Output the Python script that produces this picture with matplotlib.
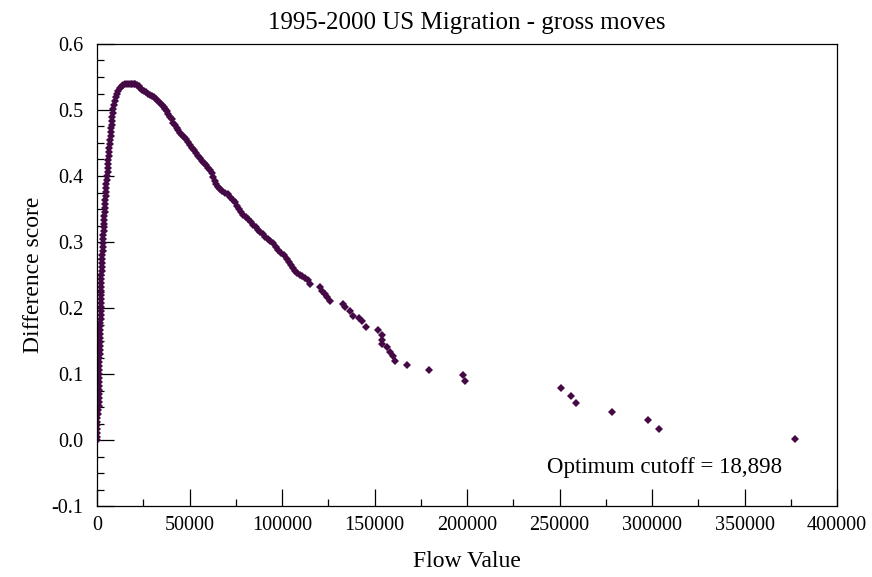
import matplotlib
matplotlib.use("Agg")
import matplotlib.pyplot as plt
from matplotlib.ticker import MultipleLocator, FormatStrFormatter

plt.rcParams['font.family'] = ['Liberation Serif', 'DejaVu Serif']

title = "1995-2000 US Migration - gross moves"
x_label = "Flow Value"
y_label = "Difference score"
note = "Optimum cutoff = 18,898"

# rising part (very small flow values)
flow_rise = [50, 80, 120, 150, 180, 220, 260, 300,
             700, 900, 1000, 1050, 1100, 1150, 1200, 1200, 1250, 1250, 1300, 1300, 1350, 1350, 1400, 1400,
             1500, 1600, 1650, 1700, 1750, 1800, 1850, 1900, 1950, 2000, 2000, 2050, 2100, 2150, 2200,
             2250, 2300, 2350, 2400, 2500, 2600,
             2750, 2850, 2950, 3050, 3150, 3250, 3350, 3450, 3550, 3650, 3750,
             3900, 4000, 4150, 4250, 4400, 4500, 4650, 4800, 4950, 5100,
             5300, 5500, 5700, 5850, 6000, 6150, 6350, 6550, 6750, 6950, 7150, 7350, 7550, 7750, 7950,
             8150, 8350, 8600, 8900, 9300, 9800, 10300, 10900, 11600, 12400, 13300, 14300, 15300,
             16300, 17300, 18300, 18898, 19800, 20800, 21800, 22800]
score_rise = [0.000, 0.005, 0.010, 0.016, 0.022, 0.028, 0.034, 0.040,
              0.046, 0.052, 0.058, 0.064, 0.070, 0.076, 0.082, 0.088, 0.094, 0.100, 0.106, 0.112, 0.118, 0.124, 0.130, 0.136,
              0.142, 0.148, 0.154, 0.160, 0.166, 0.172, 0.178, 0.184, 0.190, 0.196, 0.202, 0.208, 0.214, 0.220, 0.226,
              0.232, 0.238, 0.244, 0.250, 0.256, 0.262,
              0.268, 0.274, 0.280, 0.286, 0.292, 0.298, 0.304, 0.310, 0.316, 0.322, 0.328,
              0.334, 0.340, 0.346, 0.352, 0.358, 0.364, 0.370, 0.376, 0.382, 0.388,
              0.394, 0.400, 0.406, 0.412, 0.418, 0.424, 0.430, 0.436, 0.442, 0.448, 0.454, 0.460, 0.466, 0.472, 0.478,
              0.484, 0.490, 0.496, 0.502, 0.508, 0.514, 0.519, 0.524, 0.529, 0.533, 0.536, 0.538, 0.539,
              0.540, 0.540, 0.540, 0.540, 0.539, 0.539, 0.538, 0.537]

# declining part
flow_fall = [23240, 24300, 25400, 26500, 27600, 28650, 29700, 30800, 31900, 33000, 34050, 35100, 36000,
             36900, 37800, 38600, 39460, 40300, 41200, 42100, 43000, 43900, 44865, 45900, 46900, 47900,
             49000, 50270, 51400, 52500, 53500, 54600, 55680, 56700, 57800, 58900, 60000, 61080, 62000,
             62800, 63600, 64500, 65500, 66490, 67800, 69200, 70600, 72000, 73680, 74800, 75900, 77000,
             78000, 79080, 80500, 81800, 83200, 84490, 85800, 87000, 88300, 89600, 90810, 92200, 93600,
             95000, 96500, 98000, 99500, 101000, 102540, 103700, 104800, 105900, 107000, 107950, 109500,
             111000, 112600, 114220, 115135,
             120540, 121800, 123000, 124500, 125950, 132970, 134050, 136760, 138380, 141620, 143500,
             145400, 151890, 154050, 154050, 154050, 156760, 158500, 160000, 161080]
score_fall = [0.533, 0.531, 0.529, 0.527, 0.525, 0.523, 0.521, 0.519, 0.516, 0.513, 0.511, 0.508, 0.505,
              0.502, 0.498, 0.494, 0.490, 0.486, 0.481, 0.477, 0.473, 0.469, 0.465, 0.462, 0.459, 0.456,
              0.452, 0.447, 0.443, 0.439, 0.435, 0.431, 0.427, 0.423, 0.420, 0.416, 0.412, 0.409, 0.404,
              0.398, 0.393, 0.388, 0.384, 0.381, 0.378, 0.375, 0.372, 0.368, 0.364, 0.360, 0.355, 0.350,
              0.345, 0.341, 0.338, 0.335, 0.331, 0.326, 0.322, 0.318, 0.315, 0.312, 0.308, 0.305, 0.302,
              0.298, 0.293, 0.288, 0.284, 0.280, 0.275, 0.270, 0.265, 0.260, 0.256, 0.253, 0.250,
              0.248, 0.245, 0.242, 0.236,
              0.232, 0.226, 0.221, 0.216, 0.211, 0.206, 0.202, 0.195, 0.188, 0.185, 0.180,
              0.171, 0.167, 0.159, 0.152, 0.145, 0.141, 0.134, 0.127, 0.120]

# sparse tail
flow_tail = [167570, 179620, 198000, 199080, 250810, 256050, 259080, 278540, 298000, 303950, 377300]
score_tail = [0.113, 0.106, 0.098, 0.090, 0.079, 0.067, 0.056, 0.043, 0.031, 0.016, 0.0015]

flows = flow_rise + flow_fall + flow_tail
scores = score_rise + score_fall + score_tail

color = '#450a45'

fig = plt.figure(figsize=(8.72, 5.77), dpi=100)
ax = fig.add_axes([97/872, 71/577, 740/872, 462/577])
ax.plot(flows, scores, linestyle='none', marker='D', markersize=3.7,
        color=color, markeredgewidth=0)

ax.set_xlim(0, 400000)
ax.set_ylim(-0.1, 0.6)
ax.xaxis.set_major_locator(MultipleLocator(50000))
ax.xaxis.set_minor_locator(MultipleLocator(25000))
ax.yaxis.set_major_locator(MultipleLocator(0.1))
ax.yaxis.set_minor_locator(MultipleLocator(0.025))
ax.yaxis.set_major_formatter(FormatStrFormatter('%.1f'))
ax.tick_params(which='both', direction='in', top=False, right=False,
               labelsize=14.5, width=0.9, color='black')
ax.tick_params(axis='x', which='major', length=12.2, pad=7)
ax.tick_params(axis='y', which='major', length=12.2, pad=10)
ax.tick_params(which='minor', length=5)
for s in ax.spines.values():
    s.set_linewidth(0.9)

ax.set_title(title, fontsize=18, pad=11)
ax.set_xlabel(x_label, fontsize=17, labelpad=12)
ax.set_ylabel(y_label, fontsize=17, labelpad=5)
ax.text(307000, -0.041, note, fontsize=16.5, ha='center', va='center')

fig.savefig('out.png', dpi=100)
